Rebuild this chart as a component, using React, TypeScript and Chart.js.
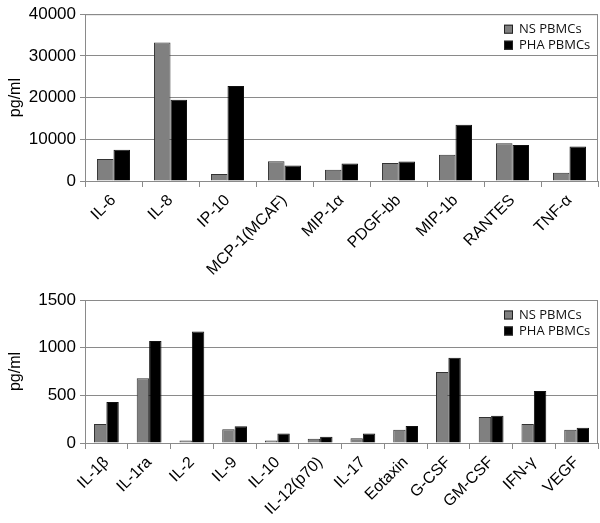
import React, { useEffect, useRef } from "react";
import { Chart, registerables } from "chart.js";

Chart.register(...registerables);

const topCategories = ["IL-6", "IL-8", "IP-10", "MCP-1(MCAF)", "MIP-1α", "PDGF-bb", "MIP-1b", "RANTES", "TNF-α"];
const topNS = [5300, 33200, 1700, 4750, 2700, 4300, 6300, 9050, 2000];
const topPHA = [7500, 19500, 22800, 3700, 4200, 4650, 13500, 8650, 8300];
const topTicks = [0, 10000, 20000, 30000, 40000];

const botCategories = ["IL-1β", "IL-1ra", "IL-2", "IL-9", "IL-10", "IL-12(p70)", "IL-17", "Eotaxin", "G-CSF", "GM-CSF", "IFN-γ", "VEGF"];
const botNS = [200, 680, 25, 145, 25, 45, 50, 140, 745, 272, 200, 140];
const botPHA = [430, 1070, 1170, 175, 100, 65, 100, 178, 895, 285, 545, 160];
const botTicks = [0, 500, 1000, 1500];

const seriesNames = ["NS PBMCs", "PHA PBMCs"];
const seriesColors = ["#808080", "#000000"];

const GRID = "#8a8a8a";

function makeConfig(
  labels: string[],
  ns: number[],
  pha: number[],
  ticks: number[],
  topPad: number,
  xHeight: number
): any {
  const max = ticks[ticks.length - 1];
  const step = ticks[1] - ticks[0];
  const borderPlugin = {
    id: "boxAndLegend",
    afterDraw(chart: any) {
      const { ctx, chartArea } = chart;
      ctx.save();
      ctx.strokeStyle = GRID;
      ctx.lineWidth = 1;
      ctx.beginPath();
      ctx.moveTo(chartArea.left, chartArea.top + 0.5);
      ctx.lineTo(chartArea.right - 0.5, chartArea.top + 0.5);
      ctx.lineTo(chartArea.right - 0.5, chartArea.bottom);
      ctx.stroke();
      // legend
      const lx = 504;
      const rows = [chartArea.top + 15, chartArea.top + 31];
      ctx.font = "13px 'Open Sans'";
      ctx.textBaseline = "middle";
      ctx.textAlign = "left";
      chart.data.datasets.forEach((ds: any, i: number) => {
        const cy = rows[i];
        ctx.fillStyle = ds.backgroundColor;
        ctx.fillRect(lx, cy - 4.5, 9, 9);
        ctx.strokeStyle = "#222";
        ctx.strokeRect(lx + 0.5, cy - 4, 8, 8);
        ctx.fillStyle = "#111";
        ctx.fillText(ds.label, lx + 15, cy);
      });
      ctx.restore();
    },
  };
  return {
    type: "bar",
    data: {
      labels,
      datasets: [
        {
          label: seriesNames[0],
          data: ns,
          backgroundColor: seriesColors[0],
          borderColor: "#333333",
          borderWidth: 1,
          borderSkipped: "bottom",
          categoryPercentage: 0.58,
          barPercentage: 1.0,
        },
        {
          label: seriesNames[1],
          data: pha,
          backgroundColor: seriesColors[1],
          borderColor: "#111111",
          borderWidth: 1,
          borderSkipped: "bottom",
          categoryPercentage: 0.58,
          barPercentage: 1.0,
        },
      ],
    },
    options: {
      animation: false,
      responsive: false,
      maintainAspectRatio: false,
      layout: { padding: { top: topPad, right: 2, left: 0, bottom: 0 } },
      plugins: {
        legend: { display: false },
        tooltip: { enabled: false },
      },
      scales: {
        x: {
          grid: {
            display: true,
            drawOnChartArea: false,
            color: GRID,
            tickLength: 6,
            offset: true,
          },
          border: { color: GRID, width: 1 },
          ticks: {
            autoSkip: false,
            maxRotation: 45,
            minRotation: 45,
            color: "#000",
            font: { family: "'Liberation Sans', Arial", size: 16 },
            padding: 4,
          },
          afterFit(scale: any) {
            scale.height = xHeight;
          },
        },
        y: {
          min: 0,
          max,
          ticks: {
            stepSize: step,
            color: "#000",
            font: { family: "'Liberation Sans', Arial", size: 17 },
            padding: 4,
            callback: (v: any) => String(v),
          },
          grid: { color: GRID, tickLength: 5, lineWidth: 1 },
          border: { color: GRID, width: 1 },
          title: {
            display: true,
            text: "pg/ml",
            color: "#000",
            font: { family: "'Liberation Sans', Arial", size: 16 },
            padding: { top: 6, bottom: 0 },
          },
          afterFit(scale: any) {
            scale.width = 85;
          },
        },
      },
    },
    plugins: [borderPlugin],
  };
}

function BarChart(props: {
  labels: string[];
  ns: number[];
  pha: number[];
  ticks: number[];
  topPad: number;
  xHeight: number;
  height: number;
  top: number;
}) {
  const ref = useRef<HTMLCanvasElement | null>(null);
  useEffect(() => {
    if (!ref.current) return;
    const chart = new Chart(
      ref.current,
      makeConfig(props.labels, props.ns, props.pha, props.ticks, props.topPad, props.xHeight)
    );
    return () => chart.destroy();
  }, []);
  return (
    <canvas
      ref={ref}
      width={600}
      height={props.height}
      style={{ position: "absolute", left: 0, top: props.top, display: "block", width: 600, height: props.height }}
    />
  );
}

export default function App() {
  return (
    <div style={{ position: "absolute", left: 0, top: 0, width: 600, height: 523, background: "#fff", overflow: "hidden" }}>
      <BarChart labels={topCategories} ns={topNS} pha={topPHA} ticks={topTicks} topPad={7} xHeight={99} height={280} top={0} />
      <BarChart labels={botCategories} ns={botNS} pha={botPHA} ticks={botTicks} topPad={38} xHeight={80} height={261} top={262} />
    </div>
  );
}
